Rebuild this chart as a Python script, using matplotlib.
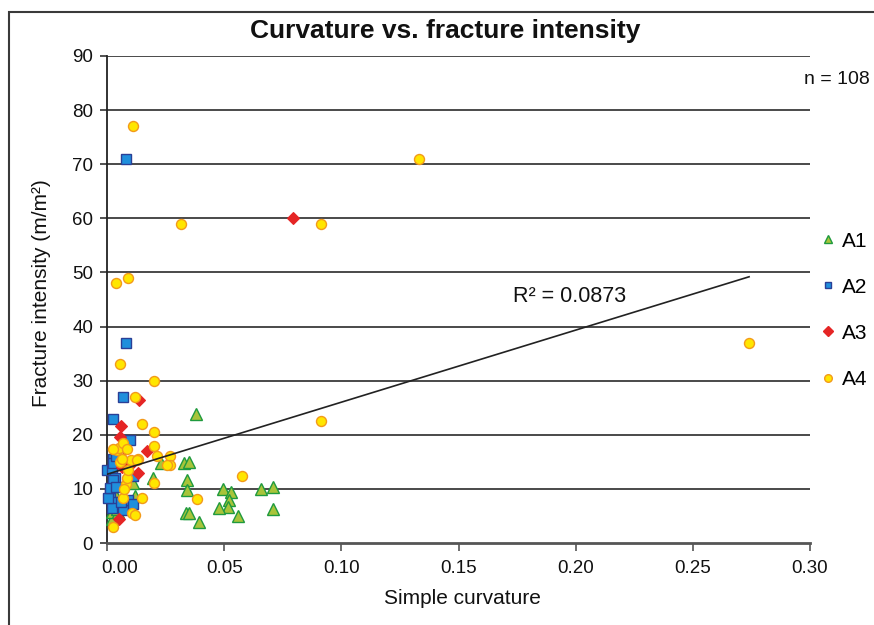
import matplotlib
matplotlib.use("Agg")
import matplotlib.pyplot as plt
import matplotlib.transforms as mtransforms
from matplotlib.lines import Line2D
from matplotlib.patches import Rectangle

# ---------------- data ----------------
a1_x = [0.0378, 0.0329, 0.0350, 0.0230, 0.0340, 0.0340, 0.0497, 0.0528, 0.0520, 0.0518,
        0.0480, 0.0558, 0.0657, 0.0707, 0.0707, 0.0337, 0.0351, 0.0394, 0.0198, 0.0112,
        0.0120, 0.0020, 0.0020, 0.0048, 0.0044, 0.0030]
a1_y = [23.8, 14.7, 14.9, 14.8, 11.6, 9.8, 9.9, 9.5, 7.9, 6.6,
        6.4, 5.0, 9.9, 10.4, 6.2, 5.6, 5.6, 3.9, 12.0, 11.0,
        8.6, 4.4, 5.8, 5.8, 6.2, 9.5]

a2_x = [0.0081, 0.0081, 0.0070, 0.0027, 0.0098, 0.0000, 0.0020, 0.0027, 0.0027, 0.0034,
        0.0027, 0.0013, 0.0034, 0.0020, 0.0070, 0.0091, 0.0112, 0.0110, 0.0027, 0.0006,
        0.0013, 0.0040, 0.0060, 0.0040]
a2_y = [71.0, 37.0, 27.0, 23.0, 19.0, 13.5, 13.5, 15.6, 14.7, 12.0,
        10.4, 9.2, 7.6, 6.4, 6.1, 8.0, 7.2, 12.3, 11.6, 8.3,
        10.1, 10.4, 7.5, 16.0]

a3_x = [0.0794, 0.0138, 0.0058, 0.0055, 0.0077, 0.0169, 0.0134, 0.0053, 0.0098, 0.0065]
a3_y = [60.1, 26.4, 21.6, 19.6, 17.3, 17.0, 12.9, 4.4, 14.5, 14.0]

a4_x = [0.0110, 0.1330, 0.0316, 0.0913, 0.0088, 0.0038, 0.0055, 0.0199, 0.0913, 0.2740,
        0.0121, 0.0148, 0.0199, 0.0199, 0.0212, 0.0269, 0.0269, 0.0257, 0.0199, 0.0383,
        0.0577, 0.0027, 0.0070, 0.0105, 0.0121, 0.0148, 0.0080, 0.0087, 0.0091, 0.0101,
        0.0055, 0.0063, 0.0041, 0.0053, 0.0070, 0.0134, 0.0027, 0.0073, 0.0127, 0.0085]
a4_y = [77.0, 71.0, 59.0, 59.0, 49.0, 48.1, 33.0, 30.0, 22.5, 37.0,
        27.0, 22.0, 20.5, 18.0, 16.0, 16.1, 14.5, 14.5, 11.0, 8.1,
        12.4, 2.9, 8.4, 5.6, 5.2, 8.4, 10.9, 12.0, 13.5, 15.3,
        15.0, 15.6, 17.2, 17.5, 18.4, 15.5, 17.3, 9.9, 15.3, 17.3]

trend_x = [0.0, 0.274]
trend_y = [12.7, 49.2]
r2_text = "R² = 0.0873"
n_text = "n = 108"

x_ticks = [0.00, 0.05, 0.10, 0.15, 0.20, 0.25, 0.30]
y_ticks = [0, 10, 20, 30, 40, 50, 60, 70, 80, 90]

# ---------------- figure ----------------
plt.rcParams['font.family'] = ['Liberation Sans', 'DejaVu Sans']

fig = plt.figure(figsize=(8.74, 6.25), dpi=100)
ax = fig.add_axes([107/874, 1-543/625, (810-107)/874, (543-56)/625])

# outer frame
fig.patches.append(Rectangle((9/874, -0.05), 1.2, 1.05 - 12/625,
                             transform=fig.transFigure, fill=False,
                             edgecolor='#3a3a3a', linewidth=1.5))

ax.set_xlim(0, 0.30)
ax.set_ylim(0, 90)

for yv in y_ticks[1:]:
    ax.axhline(yv, color='#3c3c3c', linewidth=1.3, zorder=1)

common = dict(linestyle='none', clip_on=False, zorder=3)
ax.plot(a1_x, a1_y, marker='^', markersize=8, markerfacecolor='#a8c43a',
        markeredgecolor='#1f9a3e', markeredgewidth=1.0, label='A1', **common)
ax.plot(a2_x, a2_y, marker='s', markersize=7, markerfacecolor='#1f8fdc',
        markeredgecolor='#2a3f96', markeredgewidth=1.0, label='A2', **common)
ax.plot(a3_x, a3_y, marker='D', markersize=6.5, markerfacecolor='#e52525',
        markeredgecolor='#e52525', markeredgewidth=0.8, label='A3', **common)
ax.plot(a4_x, a4_y, marker='o', markersize=7.2, markerfacecolor='#ffe600',
        markeredgecolor='#f39a1a', markeredgewidth=1.0, label='A4', **common)

ax.plot(trend_x, trend_y, color='#222222', linewidth=1.2, zorder=4)
ax.text(0.1975, 45.5, r2_text, fontsize=15.5, ha='center', va='center', color='#111111')

for s in ['top', 'right']:
    ax.spines[s].set_visible(False)
ax.spines['left'].set_color('#222222')
ax.spines['left'].set_linewidth(1.3)
ax.spines['bottom'].set_color('#555555')
ax.spines['bottom'].set_linewidth(2.0)

ax.set_xticks(x_ticks)
ax.set_xticklabels([f"{v:.2f}" for v in x_ticks], fontsize=13.5)
ax.set_yticks(y_ticks)
ax.set_yticklabels([str(v) for v in y_ticks], fontsize=13.5)
ax.tick_params(axis='x', length=6, width=1.2, color='#555555', pad=6, labelcolor='#111111')
ax.tick_params(axis='y', length=5, width=1.2, color='#333333', pad=5, labelcolor='#111111')

# first x tick label sits slightly right of its tick in the reference
first = ax.get_xticklabels()[0]
first.set_transform(first.get_transform() +
                    mtransforms.ScaledTranslation(13/100, 0, fig.dpi_scale_trans))

ax.set_xlabel("Simple curvature", fontsize=15, color='#111111')
ax.xaxis.set_label_coords((462-107)/703, -(599-543)/487)
ax.xaxis.label.set_va('center')
ax.set_ylabel("Fracture intensity (m/m²)", fontsize=15, color='#111111')
ax.yaxis.set_label_coords((51-107)/703, (543-293)/487)
fig.text(445/874, 1-31/625, "Curvature vs. fracture intensity",
         fontsize=19, fontweight='bold', ha='center', va='center', color='#111111')
fig.text(837/874, 1-80/625, n_text, fontsize=14, ha='center', va='center', color='#111111')

handles = [
    Line2D([], [], linestyle='none', marker='^', markersize=5.5, markerfacecolor='#a8c43a',
           markeredgecolor='#1f9a3e', label='A1'),
    Line2D([], [], linestyle='none', marker='s', markersize=5, markerfacecolor='#1f8fdc',
           markeredgecolor='#2a3f96', label='A2'),
    Line2D([], [], linestyle='none', marker='D', markersize=5, markerfacecolor='#e52525',
           markeredgecolor='#e52525', label='A3'),
    Line2D([], [], linestyle='none', marker='o', markersize=5.5, markerfacecolor='#ffe600',
           markeredgecolor='#f39a1a', label='A4'),
]
ax.legend(handles=handles, loc='center left', bbox_to_anchor=(1.017, 0.478),
          frameon=False, fontsize=15, handlelength=0.6, handletextpad=0.35,
          labelspacing=1.3, borderaxespad=0, borderpad=0)

fig.savefig("out.png", dpi=100)
